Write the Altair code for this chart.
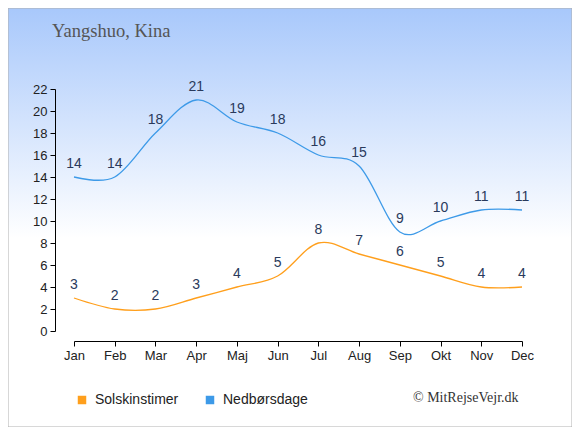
import altair as alt
import pandas as pd

months = ["Jan", "Feb", "Mar", "Apr", "Maj", "Jun", "Jul", "Aug", "Sep", "Okt", "Nov", "Dec"]
sol = [3, 2, 2, 3, 4, 5, 8, 7, 6, 5, 4, 4]
ned = [14, 14, 18, 21, 19, 18, 16, 15, 9, 10, 11, 11]
series = ["Solskinstimer", "Nedbørsdage"]
colors = ["#ff9f1c", "#3d9ae8"]
title_text = "Yangshuo, Kina"
credit_text = "© MitRejseVejr.dk"

rows = []
for s, vals in zip(series, [sol, ned]):
    for m, v in zip(months, vals):
        rows.append({"month": m, "value": v, "series": s})
df = pd.DataFrame(rows)

W, H = 448, 242
PL, PT = 66, 81
TOTAL_W, TOTAL_H = 564, 419

x_scale = alt.Scale(type="point", padding=0)
y_scale = alt.Scale(domain=[0, 22], nice=False)

x_axis = alt.Axis(title=None, labelAngle=0, offset=10, tickSize=5, labelPadding=3,
                  domainColor="#000", tickColor="#000", zindex=1)
y_axis = alt.Axis(title=None, values=list(range(0, 23, 2)), offset=19, tickSize=5,
                  labelPadding=3, grid=False, domainColor="#000", tickColor="#000",
                  labelOverlap=False, zindex=1)
x_enc = alt.X("month:N", sort=months, scale=x_scale, axis=x_axis)
y_enc = alt.Y("value:Q", scale=y_scale, axis=y_axis)

legend = alt.Legend(title=None, orient="none", direction="horizontal",
                    legendX=1, legendY=304, symbolType="square",
                    symbolSize=72, symbolStrokeWidth=0,
                    labelFontSize=14, labelFont="Liberation Sans",
                    labelColor="#222", labelOffset=6, columnPadding=24, zindex=1)
color_enc = alt.Color("series:N", scale=alt.Scale(domain=series, range=colors), legend=legend)

bg = alt.Chart(pd.DataFrame({"a": [0]})).mark_rect(
    fill=alt.Gradient(gradient="linear",
                      stops=[alt.GradientStop(color="#a8c8fb", offset=0),
                             alt.GradientStop(color="#ffffff", offset=0.55),
                             alt.GradientStop(color="#ffffff", offset=1)],
                      x1=0, x2=0, y1=0, y2=1),
    stroke="#b0b0b0", strokeWidth=1
).encode(x=alt.value(-PL), x2=alt.value(TOTAL_W - PL), y=alt.value(-PT), y2=alt.value(TOTAL_H - PT))

legend_carrier = alt.Chart(df).mark_square(size=0, filled=True, opacity=1).encode(
    x=x_enc, y=y_enc, color=color_enc)

lines = alt.Chart(df).mark_line(interpolate="cardinal", strokeWidth=1.3).encode(
    x=x_enc, y=y_enc, color=color_enc)

labels = alt.Chart(df).mark_text(dy=-13, fontSize=14, font="Liberation Sans", color="#2a3a5c").encode(
    x=x_enc, y=y_enc, text="value:Q")

title = alt.Chart(pd.DataFrame({"t": [title_text]})).mark_text(
    align="left", baseline="alphabetic", font="Liberation Serif", fontSize=18.5, color="#555555"
).encode(x=alt.value(-22), y=alt.value(-52), text="t:N")

credit = alt.Chart(pd.DataFrame({"t": [credit_text]})).mark_text(
    align="left", baseline="alphabetic", font="Liberation Serif", fontSize=14, color="#333333"
).encode(x=alt.value(339), y=alt.value(313), text="t:N")

chart = alt.layer(bg, legend_carrier, lines, labels, title, credit).properties(
    width=W, height=H,
    autosize=alt.AutoSizeParams(type="none"),
    padding={"left": PL, "top": PT, "right": TOTAL_W - PL - W, "bottom": TOTAL_H - PT - H},
    background="white",
).configure_view(stroke=None).configure_axis(
    labelFont="Liberation Sans", labelFontSize=13, labelColor="#222"
)

chart.save("out.html", embed_options={"renderer": "svg", "actions": False})
